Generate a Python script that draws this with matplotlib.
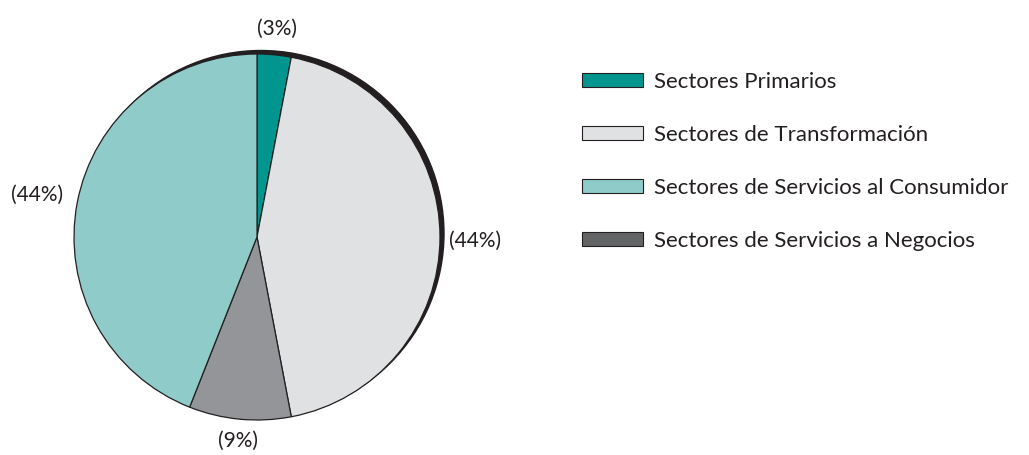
import numpy as np
import matplotlib
matplotlib.use('Agg')
import matplotlib.pyplot as plt
from matplotlib.patches import Patch, Circle

# sector shares (percent), clockwise from the top
sectores = ['Sectores Primarios', 'Sectores de Transformación',
            'Sectores de Servicios a Negocios', 'Sectores de Servicios al Consumidor']
valores = [3, 44, 9, 44]
colores = ['#00968f', '#e0e1e3', '#939598', '#8ecbc9']

# legend order and swatch colours
leyenda = ['Sectores Primarios', 'Sectores de Transformación',
           'Sectores de Servicios al Consumidor', 'Sectores de Servicios a Negocios']
leyenda_col = ['#00968f', '#e0e1e3', '#8ecbc9', '#636466']

plt.rcParams['font.family'] = ['Lato', 'DejaVu Sans']
tinta = '#231f20'

fig = plt.figure(figsize=(10.29, 4.55), dpi=100)
ax = fig.add_axes([0, 0, 1, 1])

cx, cy, r = 257, 218, 183

# dark rim behind the pie
ax.add_patch(Circle((cx + 4, cy + 3.5), r, color=tinta, zorder=1))

wedges, _ = ax.pie(valores, colors=colores, startangle=90, counterclock=False,
                   center=(cx, cy), radius=r, frame=True,
                   wedgeprops=dict(edgecolor=tinta, linewidth=0.9, zorder=2))
ax.set_xlim(0, 1029)
ax.set_ylim(0, 455)
ax.axis('off')

# percent labels placed around each wedge
ajustes = [(1.14, 'center'), (1.05, 'left'), (1.12, 'center'), (1.08, 'right')]
for w, v, (d, ha) in zip(wedges, valores, ajustes):
    ang = np.deg2rad((w.theta1 + w.theta2) / 2)
    x = cx + r * d * np.cos(ang)
    y = cy + r * d * np.sin(ang)
    if ha == 'left':
        y -= 4
    if ha == 'right':
        y += 5
    ax.text(x, y, '(%d%%)' % v, ha=ha, va='center', fontsize=15, color=tinta)

handles = [Patch(facecolor=c, edgecolor=tinta, linewidth=0.8) for c in leyenda_col]
ax.legend(handles, leyenda, loc='upper left', bbox_to_anchor=(562 / 1029, 1 - 52 / 455),
          frameon=False, fontsize=16, handlelength=2.75, handleheight=0.55,
          handletextpad=0.5, labelspacing=1.48, labelcolor=tinta)

fig.savefig('out.png', dpi=100)
